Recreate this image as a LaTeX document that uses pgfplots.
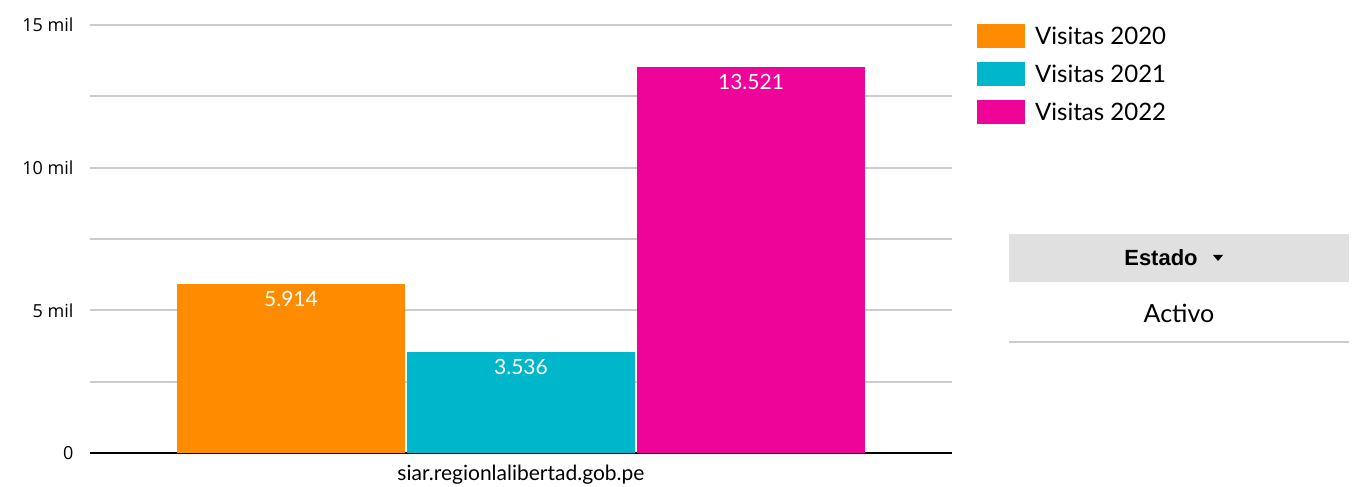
\documentclass[border=0pt]{standalone}
\usepackage{fontspec}
\setmainfont{Lato}
\newfontfamily\tickfont{Open Sans}
\newfontfamily\headfont{Liberation Sans}
\usepackage{pgfplots}
\pgfplotsset{compat=1.18}

\definecolor{c2020}{RGB}{255,140,0}
\definecolor{c2021}{RGB}{0,182,203}
\definecolor{c2022}{RGB}{238,4,153}
\definecolor{gridgray}{RGB}{204,204,204}
\definecolor{headgray}{RGB}{224,224,224}

\begin{document}
\begin{tikzpicture}[x=1pt,y=1pt]
\useasboundingbox (0,0) rectangle (1361,487);
\begin{axis}[
    at={(90pt,34pt)}, anchor=south west,
    scale only axis, width=862pt, height=428pt,
    xmin=-431, xmax=431, ymin=0, ymax=15000,
    ybar=2pt, bar width=228pt,
    axis x line=bottom, axis y line=left,
    x axis line style={black, line width=2pt, -},
    y axis line style={draw=none},
    major tick length=0pt, minor tick length=0pt,
    scaled y ticks=false,
    xtick={0}, xticklabels={siar.regionlalibertad.gob.pe},
    x tick label style={font=\fontsize{21}{22}\selectfont, yshift=-9pt},
    ytick={0,5000,10000,15000}, yticklabels={0,5 mil,10 mil,15 mil},
    minor ytick={2500,7500,12500},
    y tick label style={font=\tickfont\fontsize{18}{19}\selectfont, xshift=-13pt},
    ymajorgrids, yminorgrids,
    major grid style={gridgray, line width=2pt},
    minor grid style={gridgray, line width=2pt},
    /pgf/number format/.cd, fixed, precision=0, 1000 sep={.}, assume math mode=true,
    /pgfplots/.cd,
    nodes near coords,
    nodes near coords style={anchor=north, yshift=-4pt, white, font=\fontsize{21}{22}\selectfont},
    legend style={at={(rel axis cs:1.029,1.0023)}, anchor=north west, draw=none, fill=none,
        font=\fontsize{24}{25}\selectfont, row sep=14pt, column sep=10pt, inner sep=0pt,
        nodes={inner sep=0pt}},
    legend cell align=left,
]
\addplot[fill=c2020, draw=none,
    legend image code/.code={\fill[c2020] (0pt,-12pt) rectangle (48pt,12pt);}]
    coordinates {(0,5914)};
\addplot[fill=c2021, draw=none,
    legend image code/.code={\fill[c2021] (0pt,-12pt) rectangle (48pt,12pt);}]
    coordinates {(0,3536)};
\addplot[fill=c2022, draw=none,
    legend image code/.code={\fill[c2022] (0pt,-12pt) rectangle (48pt,12pt);}]
    coordinates {(0,13521)};
\legend{Visitas 2020, Visitas 2021, Visitas 2022}
\end{axis}
% filter table
\fill[headgray] (1009,205) rectangle (1349,253);
\node[font=\headfont\bfseries\fontsize{22}{23}\selectfont] at (1161,229) {Estado};
\fill[black] (1213,232) -- (1223,232) -- (1218,226) -- cycle;
\node[font=\fontsize{25}{26}\selectfont] at (1179,174) {Activo};
\draw[gridgray, line width=2pt] (1009,145) -- (1349,145);
\end{tikzpicture}
\end{document}
